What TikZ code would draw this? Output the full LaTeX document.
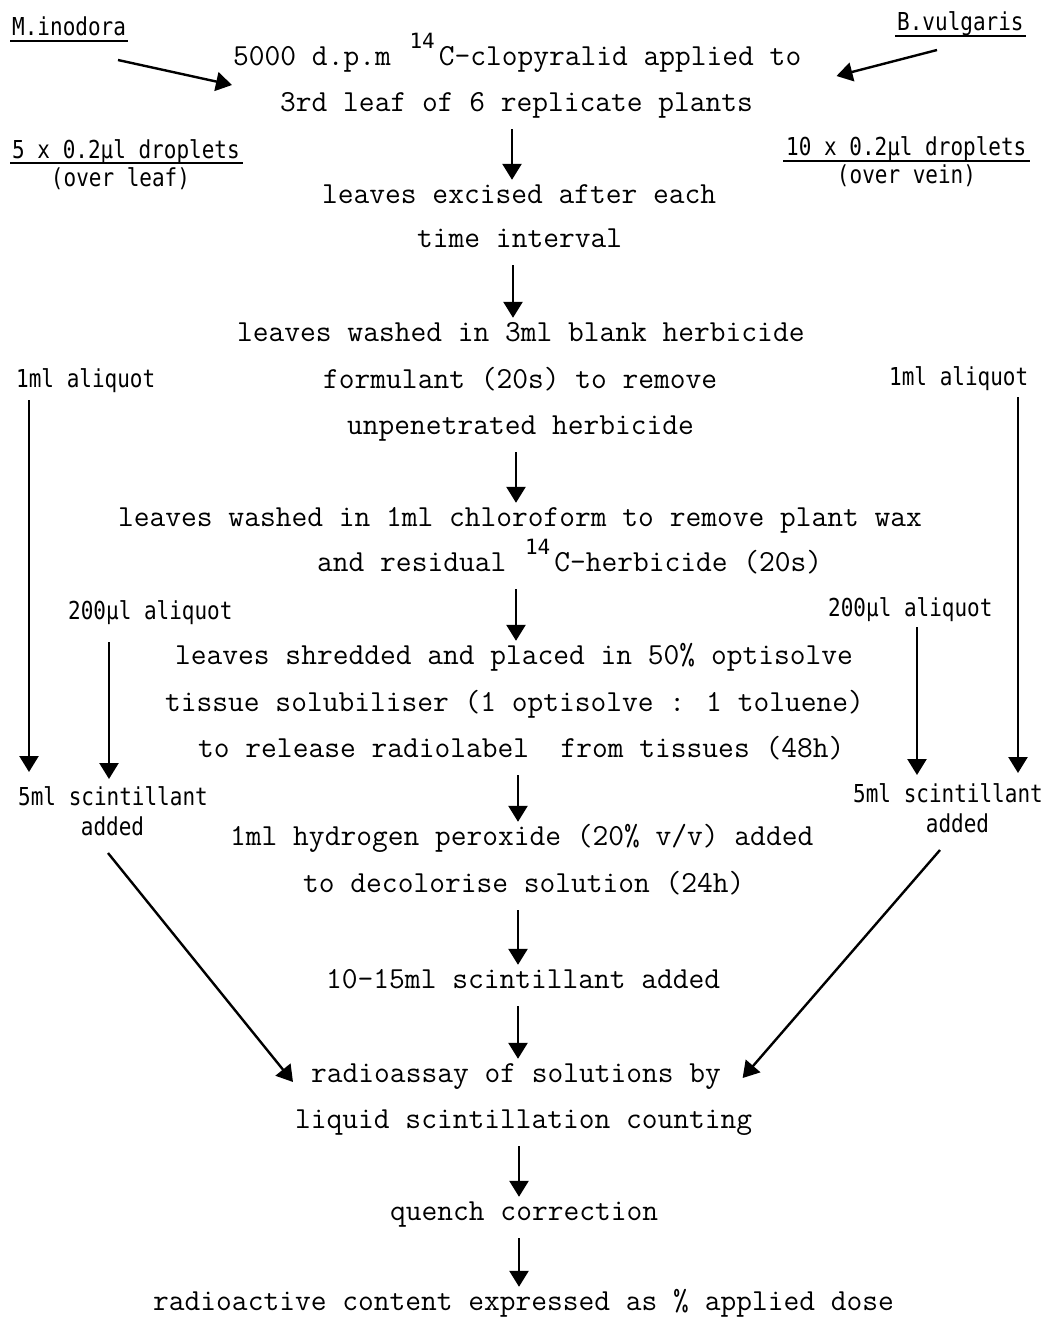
\documentclass[tikz,border=0pt]{standalone}
\usepackage{fontspec}
\usetikzlibrary{arrows.meta,calc}
\newfontfamily\sidefont[FakeStretch=0.85]{DejaVu Sans Mono}
\newfontfamily\supfont{DejaVu Sans Mono}
% raised isotope mass number in front of C
\newcommand\isot{\kern3pt\raisebox{17pt}{\supfont\fontsize{21}{21}\selectfont 14}\kern4pt}

\begin{document}
\begin{tikzpicture}[x=1pt,y=-1pt,
  mainline/.style={anchor=base west, inner sep=0pt, text height=20pt, text depth=8pt,
                   font=\ttfamily\fontsize{30.6}{30.6}\selectfont},
  sidelabel/.style={anchor=base west, inner sep=0pt,
                    font=\sidefont\fontsize{24.7}{24.7}\selectfont},
  flow/.style={-{Triangle[length=16pt,width=19pt]}, line width=2.6pt,
               shorten <=10pt, shorten >=3pt},
  sidearrow/.style={-{Triangle[length=16pt,width=19pt]}, line width=2.4pt},
  rule/.style={line width=1.8pt}]

\fill[white] (0,0) rectangle (1045,1318);
\useasboundingbox (0,0) rectangle (1045,1318);

% ---- main sequence of steps
\node[mainline] (n1)  at (233,65)   {5000 d.p.m \isot C-clopyralid applied to};
\node[mainline] (n2)  at (280,111)  {3rd leaf of 6 replicate plants};
\node[mainline] (n3)  at (322,203)  {leaves excised after each};
\node[mainline] (n4)  at (417,247)  {time interval};
\node[mainline] (n5)  at (237,341)  {leaves washed in 3ml blank herbicide};
\node[mainline] (n6)  at (323,388)  {formulant (20s) to remove};
\node[mainline] (n7)  at (347,434)  {unpenetrated herbicide};
\node[mainline] (n8)  at (118,526)  {leaves washed in 1ml chloroform to remove plant wax};
\node[mainline] (n9)  at (317,571)  {and residual \isot C-herbicide (20s)};
\node[mainline] (n10) at (175,664)  {leaves shredded and placed in 50\% optisolve};
\node[mainline] (n11) at (165,711)  {tissue solubiliser (1 optisolve : 1 toluene)};
\node[mainline] (n12) at (198,757)  {to release radiolabel\ \ from tissues (48h)};
\node[mainline] (n13) at (230,845)  {1ml hydrogen peroxide (20\% v/v) added};
\node[mainline] (n14) at (303,892)  {to decolorise solution (24h)};
\node[mainline] (n15) at (326,988)  {10-15ml scintillant added};
\node[mainline] (n16) at (311,1082) {radioassay of solutions by};
\node[mainline] (n17) at (295,1128) {liquid scintillation counting};
\node[mainline] (n18) at (390,1220) {quench correction};
\node[mainline] (n19) at (153,1310) {radioactive content expressed as \% applied dose};

% x positions of the central arrows
\coordinate (a1) at (512,0);
\coordinate (a2) at (513,0);
\coordinate (a3) at (516,0);
\coordinate (a5) at (518,0);
\coordinate (a8) at (519,0);

\draw[flow] (n2.south -| a1)  -- (n3.north -| a1);
\draw[flow] (n4.south -| a2)  -- (n5.north -| a2);
\draw[flow] (n7.south -| a3)  -- (n8.north -| a3);
\draw[flow] (n9.south -| a3)  -- (n10.north -| a3);
\draw[flow] (n12.south -| a5) -- (n13.north -| a5);
\draw[flow] (n14.south -| a5) -- (n15.north -| a5);
\draw[flow] (n15.south -| a5) -- (n16.north -| a5);
\draw[flow] (n17.south -| a8) -- (n18.north -| a8);
\draw[flow] (n18.south -| a8) -- (n19.north -| a8);

% ---- side annotations
\node[sidelabel] (minL) at (12,35)   {M.inodora};
\node[sidelabel] (bvuR) at (897,30)  {B.vulgaris};
\node[sidelabel] (dropL) at (12,158) {5 x 0.2µl droplets};
\node[sidelabel,anchor=base] (leafL) at (120.5,186) {(over leaf)};
\node[sidelabel] (dropR) at (786,155) {10 x 0.2µl droplets};
\node[sidelabel,anchor=base] (veinR) at (906.5,183) {(over vein)};
\node[sidelabel] (alqL) at (16,387)  {1ml aliquot};
\node[sidelabel] (alqR) at (889,385) {1ml aliquot};
\node[sidelabel] (mlqL) at (68,619)  {200µl aliquot};
\node[sidelabel] (mlqR) at (828,616) {200µl aliquot};
\node[sidelabel] (scL) at (18,805)   {5ml scintillant};
\node[sidelabel,anchor=base] (addL) at (112.5,835) {added};
\node[sidelabel] (scR) at (853,802)  {5ml scintillant};
\node[sidelabel,anchor=base] (addR) at (957.5,832) {added};

% underlines and fraction rules
\draw[rule] ($(minL.base west)+(-2,6)$)  -- ($(minL.base east)+(2,6)$);
\draw[rule] ($(bvuR.base west)+(-2,6)$)  -- ($(bvuR.base east)+(2,6)$);
\draw[rule] ($(dropL.base west)+(-2,5)$) -- ($(dropL.base east)+(3,5)$);
\draw[rule] ($(dropR.base west)+(-3,6)$) -- ($(dropR.base east)+(3,6)$);

% species pointing to the application step
\draw[sidearrow] ($(minL.base west)+(106,25)$) -- ($(n1.base west)+(-1,20)$);
\draw[sidearrow] ($(bvuR.base west)+(40,20)$)  -- ($(n1.base east)+(35,11)$);

% aliquot columns
\coordinate (vL)  at (29,0);
\coordinate (vLs) at (109,0);
\coordinate (vR)  at (1018,0);
\coordinate (vRs) at (917,0);
\draw[sidearrow] ($(alqL.base -| vL)+(0,13)$)   -- ($(scL.base -| vL)+(0,-33)$);
\draw[sidearrow] ($(mlqL.base -| vLs)+(0,23)$)  -- ($(scL.base -| vLs)+(0,-26)$);
\draw[sidearrow] ($(alqR.base -| vR)+(0,12)$)   -- ($(scR.base -| vR)+(0,-29)$);
\draw[sidearrow] ($(mlqR.base -| vRs)+(0,11)$)  -- ($(scR.base -| vRs)+(0,-27)$);

% aliquots joining the radioassay
\draw[sidearrow] ($(addL.base)+(-4.5,18)$)  -- ($(n16.base west)+(-18,0)$);
\draw[sidearrow] ($(addR.base)+(-17.5,18)$) -- ($(n16.base east)+(21.5,-4)$);
\end{tikzpicture}
\end{document}
